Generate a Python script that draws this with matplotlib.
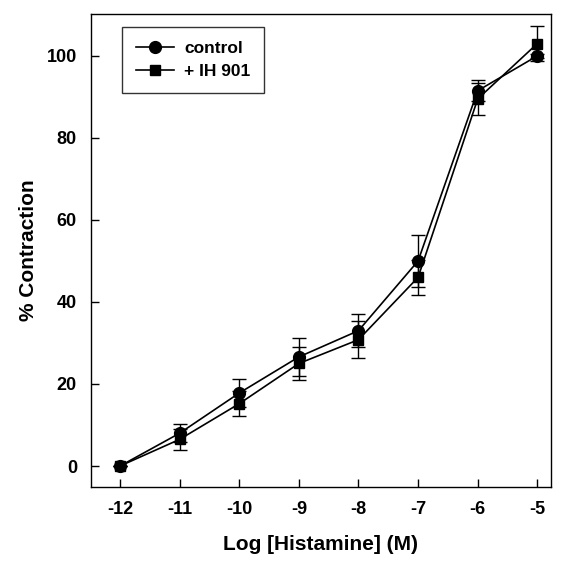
import matplotlib
matplotlib.use("Agg")
import matplotlib.pyplot as plt
from matplotlib.lines import Line2D

plt.rcParams['font.family'] = ['Liberation Sans', 'DejaVu Sans']
plt.rcParams['font.weight'] = 'bold'

log_histamine = [-12, -11, -10, -9, -8, -7, -6, -5]
control = [0, 8, 17.8, 26.6, 33, 50, 91.5, 100]
control_err = [0, 2.2, 3.5, 4.6, 4.0, 6.3, 2.5, 0.5]
ih901 = [0, 6.5, 15.2, 25, 30.8, 46, 89.5, 103]
ih901_err = [0, 2.5, 3.0, 4.0, 4.5, 4.3, 4.0, 4.2]
series_labels = ['control', '+ IH 901']

xticks = [-12, -11, -10, -9, -8, -7, -6, -5]
yticks = [0, 20, 40, 60, 80, 100]

fig = plt.figure(figsize=(5.64, 5.61), dpi=100)
ax = fig.add_axes([0.161, 0.132, 0.816, 0.843])

ax.errorbar(log_histamine, control, yerr=control_err, color='black', marker='o',
            markersize=8.5, linewidth=1.2, elinewidth=1.0, capsize=5, capthick=1.0)
ax.errorbar(log_histamine, ih901, yerr=ih901_err, color='black', marker='s',
            markersize=7.5, linewidth=1.2, elinewidth=1.0, capsize=5, capthick=1.0)

ax.set_xlim(-12.49, -4.77)
ax.set_ylim(-5.1, 110.2)
ax.set_xticks(xticks)
ax.set_xticklabels([str(t) for t in xticks])
ax.set_yticks(yticks)
ax.tick_params(direction='in', length=6, width=1.0, labelsize=13, pad=10)
for s in ax.spines.values():
    s.set_linewidth(1.0)

ax.set_xlabel('Log [Histamine] (M)', fontsize=15, fontweight='bold', labelpad=12)
ax.set_ylabel('% Contraction', fontsize=15, fontweight='bold', labelpad=6)

handles = [Line2D([], [], color='black', marker='o', markersize=8.5, linewidth=1.2),
           Line2D([], [], color='black', marker='s', markersize=7.5, linewidth=1.2)]
leg = ax.legend(handles, series_labels, loc='upper left',
                bbox_to_anchor=(0.067, 0.972), borderaxespad=0, fontsize=12.5,
                frameon=True, fancybox=False, edgecolor='black', handlelength=2.2,
                borderpad=0.8, labelspacing=0.45, handletextpad=0.6)
leg.get_frame().set_linewidth(1.0)
for t in leg.get_texts():
    t.set_fontweight('bold')

fig.savefig('out.png', dpi=100)
